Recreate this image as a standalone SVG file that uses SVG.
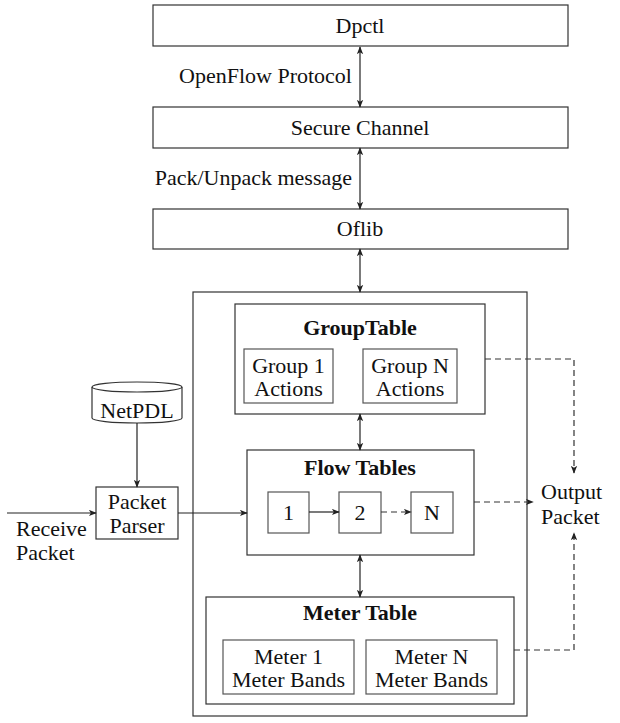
<svg xmlns="http://www.w3.org/2000/svg" width="620" height="723" viewBox="0 0 620 723">
<style>
.box{fill:#fff;stroke:#333;stroke-width:1.2}
.frame{fill:none;stroke:#333;stroke-width:1.2}
.inner{fill:#fff;stroke:#555;stroke-width:1.2}
.t{font-family:"Liberation Serif","DejaVu Serif","Times New Roman",serif;font-size:22px;fill:#111;text-anchor:middle}
.b{font-weight:bold}
.l{text-anchor:start}
.r{text-anchor:end}
.c{fill:none;stroke:#222;stroke-width:1.2}
.d{stroke-dasharray:6,4;stroke:#333}
</style>
<defs>
<marker id="ah" viewBox="0 0 10 8" refX="9" refY="4" markerWidth="8" markerHeight="7" markerUnits="userSpaceOnUse" orient="auto-start-reverse">
<path d="M0,0 L10,4 L0,8 L2.5,4 Z" fill="#222"/>
</marker>
</defs>
<g id="switch"><rect class="frame" x="193" y="292" width="334" height="424"/></g>
<g id="dpctl"><rect class="box" x="153" y="5" width="415" height="41"/><text class="t" x="360" y="33">Dpctl</text></g>
<g id="secure-channel"><rect class="box" x="153" y="107" width="415" height="41"/><text class="t" x="360" y="135">Secure Channel</text></g>
<g id="oflib"><rect class="box" x="153" y="209" width="415" height="40"/><text class="t" x="360" y="236">Oflib</text></g>
<g id="group-table">
<rect class="box" x="235" y="304" width="250" height="110"/>
<text class="t b" x="360" y="335">GroupTable</text>
<g id="group-1"><rect class="inner" x="244" y="349" width="89" height="54"/><text class="t" x="288.5" y="373">Group 1</text><text class="t" x="288.5" y="396">Actions</text></g>
<g id="group-n"><rect class="inner" x="363" y="349" width="94" height="54"/><text class="t" x="410" y="373">Group N</text><text class="t" x="410" y="396">Actions</text></g>
</g>
<g id="flow-tables">
<rect class="box" x="247" y="450" width="227" height="105"/>
<text class="t b" x="360" y="475">Flow Tables</text>
<g id="ft-1"><rect class="inner" x="268" y="492" width="41" height="41"/><text class="t" x="288.5" y="520">1</text></g>
<g id="ft-2"><rect class="inner" x="339" y="492" width="42" height="41"/><text class="t" x="360" y="520">2</text></g>
<g id="ft-n"><rect class="inner" x="411" y="492" width="42" height="41"/><text class="t" x="432" y="520">N</text></g>
</g>
<g id="meter-table">
<rect class="box" x="206" y="597" width="308" height="107"/>
<text class="t b" x="360" y="620">Meter Table</text>
<g id="meter-1"><rect class="inner" x="223" y="640" width="131" height="54"/><text class="t" x="288.5" y="664">Meter 1</text><text class="t" x="288.5" y="687">Meter Bands</text></g>
<g id="meter-n"><rect class="inner" x="366" y="640" width="131" height="54"/><text class="t" x="431.5" y="664">Meter N</text><text class="t" x="431.5" y="687">Meter Bands</text></g>
</g>
<g id="netpdl">
<path class="box" d="M92,387 A45,5 0 0 1 182,387 L182,418 A45,5 0 0 1 92,418 Z"/>
<path class="frame" d="M92,387 A45,5 0 0 0 182,387"/>
<text class="t" x="137" y="418">NetPDL</text>
</g>
<g id="packet-parser"><rect class="box" x="96" y="487" width="82" height="52"/><text class="t" x="137" y="509">Packet</text><text class="t" x="137" y="533">Parser</text></g>
<g id="connectors">
<line class="c" x1="360" y1="47" x2="360" y2="107" marker-start="url(#ah)" marker-end="url(#ah)"/>
<line class="c" x1="360" y1="148" x2="360" y2="209" marker-start="url(#ah)" marker-end="url(#ah)"/>
<line class="c" x1="360" y1="249" x2="360" y2="292" marker-start="url(#ah)" marker-end="url(#ah)"/>
<line class="c" x1="360" y1="414" x2="360" y2="450" marker-start="url(#ah)" marker-end="url(#ah)"/>
<line class="c" x1="360" y1="555" x2="360" y2="597" marker-start="url(#ah)" marker-end="url(#ah)"/>
<line class="c" x1="137" y1="423" x2="137" y2="487" marker-end="url(#ah)"/>
<line class="c" x1="7" y1="513" x2="96" y2="513" marker-end="url(#ah)"/>
<line class="c" x1="178" y1="513" x2="247" y2="513" marker-end="url(#ah)"/>
<line class="c" x1="309" y1="512" x2="339" y2="512" marker-end="url(#ah)"/>
<line class="c d" x1="381" y1="512" x2="411" y2="512" marker-end="url(#ah)"/>
<line class="c d" x1="474" y1="502" x2="533" y2="502" marker-end="url(#ah)"/>
<polyline class="c d" points="485,359 574,359 574,473" marker-end="url(#ah)"/>
<polyline class="c d" points="514,650 574,650 574,533" marker-end="url(#ah)"/>
</g>
<g id="labels">
<text class="t r" x="352" y="83">OpenFlow Protocol</text>
<text class="t r" x="352" y="185">Pack/Unpack message</text>
<text class="t l" x="16" y="536">Receive</text>
<text class="t l" x="16" y="560">Packet</text>
<text class="t l" x="541" y="499">Output</text>
<text class="t l" x="541" y="524">Packet</text>
</g>
</svg>
